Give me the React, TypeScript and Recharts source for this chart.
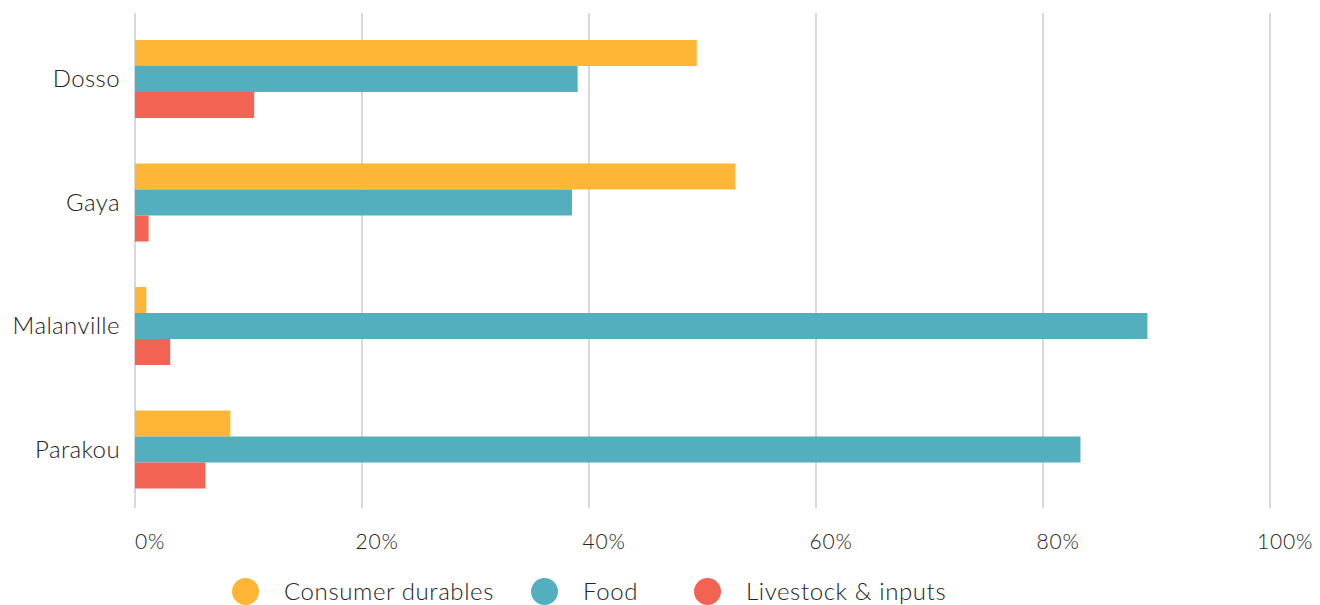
import React from 'react';
import { BarChart, Bar, XAxis, YAxis, CartesianGrid, Legend } from 'recharts';

// Share of spending by market, per category (percent)
const markets = ['Dosso', 'Gaya', 'Malanville', 'Parakou'];
const consumerDurables = [49.5, 52.9, 1.0, 8.4];
const food = [39.0, 38.5, 89.2, 83.3];
const livestockInputs = [10.5, 1.2, 3.1, 6.2];
const percentTicks = [0, 20, 40, 60, 80, 100];

const seriesNames = ['Consumer durables', 'Food', 'Livestock & inputs'];
const seriesKeys = ['durables', 'food', 'livestock'];
const seriesColors = ['#FFB536', '#53AFBE', '#F26353'];

const data = markets.map((name, i) => ({
  name,
  durables: consumerDurables[i],
  food: food[i],
  livestock: livestockInputs[i],
}));

const FONT = 'Lato, "Open Sans", sans-serif';
const WEIGHT = 300;
const TEXT = '#222222';
const legendGaps = [37, 56, 0];

const PercentTick = (props: any) => {
  const { x, y, payload } = props;
  return (
    <text
      x={x + 15}
      y={y + 41}
      textAnchor="middle"
      fontFamily={FONT}
      fontWeight={WEIGHT}
      fontSize={21}
      letterSpacing={0.8}
      fill={TEXT}
    >
      {`${payload.value}%`}
    </text>
  );
};

const LegendContent = () => (
  <div
    style={{
      height: 40,
      display: 'flex',
      alignItems: 'flex-end',
      paddingLeft: 232,
      boxSizing: 'border-box',
      fontFamily: FONT,
      fontWeight: WEIGHT,
      fontSize: 24,
      letterSpacing: 0.6,
      color: TEXT,
    }}
  >
    {seriesNames.map((label, i) => (
      <div
        key={label}
        style={{ display: 'flex', alignItems: 'center', height: 28, marginRight: legendGaps[i] }}
      >
        <span
          style={{
            width: 27,
            height: 27,
            borderRadius: '50%',
            background: seriesColors[i],
            display: 'inline-block',
            marginRight: 25,
          }}
        />
        <span style={{ lineHeight: '28px', whiteSpace: 'nowrap' }}>{label}</span>
      </div>
    ))}
  </div>
);

export default function App() {
  return (
    <div style={{ position: 'absolute', left: 0, top: 0, background: '#fff' }}>
      <BarChart
        width={1320}
        height={605}
        data={data}
        layout="vertical"
        margin={{ top: 13, right: 50, bottom: 0, left: 0 }}
        barGap={0}
      >
        <CartesianGrid horizontal={false} stroke="#c4c4c4" strokeWidth={1.3} />
        <XAxis
          type="number"
          domain={[0, 100]}
          ticks={percentTicks}
          axisLine={false}
          tickLine={false}
          tickSize={0}
          tickMargin={0}
          height={57}
          tick={<PercentTick />}
          interval={0}
        />
        <YAxis
          type="category"
          dataKey="name"
          width={135}
          axisLine={false}
          tickLine={false}
          tickSize={0}
          tickMargin={15}
          padding={{ top: 4, bottom: -3 }}
          tick={{ fontFamily: FONT, fontWeight: WEIGHT, fontSize: 24, fill: TEXT, letterSpacing: 0.4 }}
        />
        <Legend verticalAlign="bottom" content={<LegendContent />} wrapperStyle={{ left: 0, width: 1320 }} />
        {seriesKeys.map((key, i) => (
          <Bar
            key={key}
            dataKey={key}
            name={seriesNames[i]}
            fill={seriesColors[i]}
            barSize={26}
            isAnimationActive={false}
          />
        ))}
      </BarChart>
    </div>
  );
}
